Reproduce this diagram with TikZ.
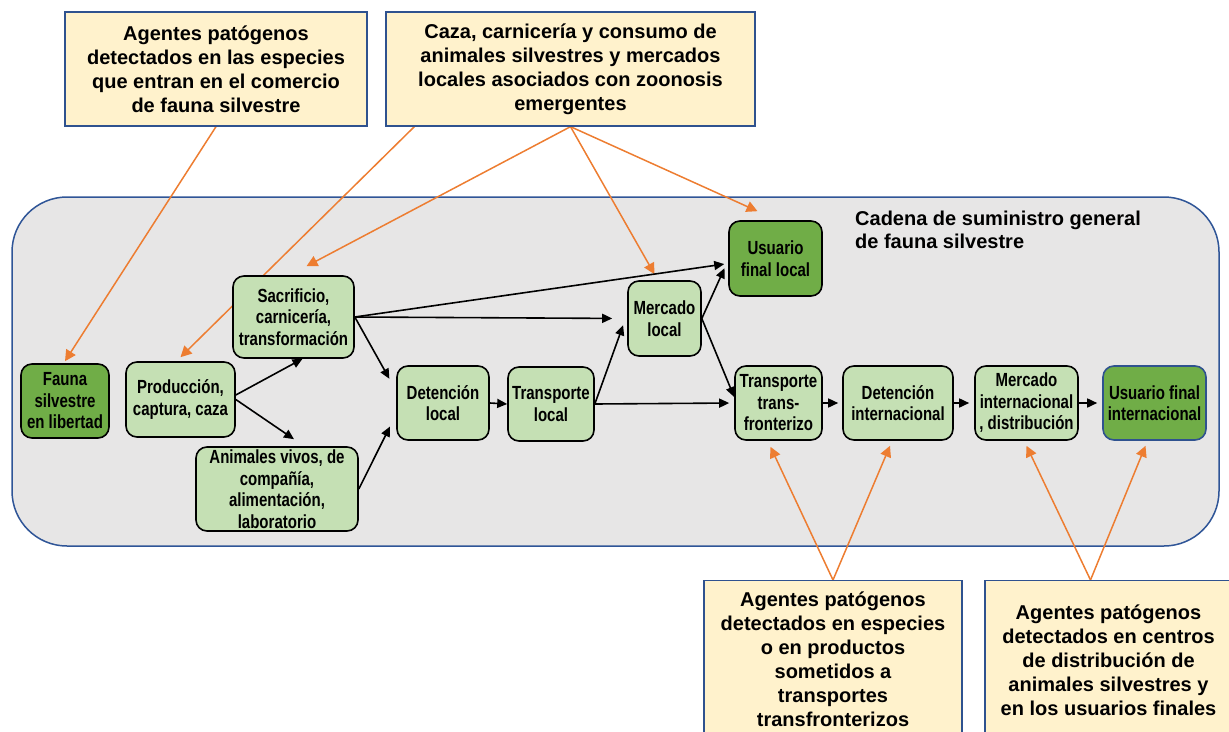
\documentclass[tikz,border=0pt]{standalone}
\usepackage{fontspec}
\setmainfont{Liberation Sans}
\newfontfamily\narrowsf{Liberation Sans}[FakeStretch=0.79]
\usetikzlibrary{arrows.meta,calc}
\definecolor{noteyellow}{HTML}{FFF2CC}
\definecolor{noteblue}{HTML}{2F528F}
\definecolor{panelgray}{HTML}{E7E6E6}
\definecolor{panelblue}{HTML}{2F5597}
\definecolor{lgreen}{HTML}{C5E0B4}
\definecolor{dgreen}{HTML}{70AD47}
\definecolor{orangeln}{HTML}{ED7D31}
\pgfdeclarelayer{bg}
\pgfdeclarelayer{mid}
\pgfsetlayers{bg,mid,main}
\begin{document}
\begin{tikzpicture}[x=1pt,y=-1pt,
  stage/.style={draw=black, line width=1.6pt, fill=lgreen, rounded corners=11pt, align=center, inner sep=0pt, font=\narrowsf\bfseries\fontsize{19}{21.5}\selectfont},
  endstage/.style={stage, fill=dgreen},
  notebox/.style={draw=noteblue, line width=1.3pt, fill=noteyellow, align=center, inner sep=0pt, font=\bfseries\fontsize{20}{24}\selectfont},
  blk/.style={-{Triangle[length=10pt,width=9pt]}, line width=1.6pt, black},
  org/.style={-{Triangle[length=11pt,width=11pt]}, line width=1.5pt, orangeln},
]
\useasboundingbox (0,0) rectangle (1229,731);

\begin{pgfonlayer}{bg}
\node[draw=panelblue, fill=panelgray, line width=1.5pt, rounded corners=55pt, minimum width=1207pt, minimum height=349pt, inner sep=0pt] (panel) at (615.5,371.5) {};
\end{pgfonlayer}

% top notes
\node[notebox, minimum width=302pt, minimum height=114pt] (top1) at (216,69)
  {Agentes patógenos\\detectados en las especies\\que entran en el comercio\\de fauna silvestre};
\node[notebox, minimum width=369pt, minimum height=114pt] (top2) at (570.5,69)
  {Caza, carnicería y consumo de\\animales silvestres y mercados\\locales asociados con zoonosis\\emergentes};

% bottom notes
\node[notebox, anchor=north, minimum width=258pt, minimum height=158pt] (bot1) at (833,580)
  {Agentes patógenos\\detectados en especies\\o en productos\\sometidos a\\transportes\\transfronterizos};
\node[notebox, anchor=north, minimum width=247pt, minimum height=160pt] (bot2) at (1108.5,580)
  {Agentes patógenos\\detectados en centros\\de distribución de\\animales silvestres y\\en los usuarios finales};

% title
\node[anchor=north west, align=left, inner sep=0pt, font=\bfseries\fontsize{20}{23}\selectfont] (title) at (855,211)
  {Cadena de suministro general\\de fauna silvestre};

% chain nodes
\node[endstage, minimum width=88pt, minimum height=74pt] (fauna) at (65,401) {Fauna\\silvestre\\en libertad};
\node[stage, minimum width=109pt, minimum height=75pt] (prod) at (180.5,399.5) {Producción,\\captura, caza};
\node[stage, minimum width=121pt, minimum height=82pt] (sac) at (293.5,317) {Sacrificio,\\carnicería,\\transformación};
\node[stage, minimum width=162pt, minimum height=84pt] (anim) at (277,489) {Animales vivos, de\\compañía,\\alimentación,\\laboratorio};
\node[stage, minimum width=92pt, minimum height=74pt] (dl) at (443,403) {Detención\\local};
\node[stage, minimum width=86pt, minimum height=74pt] (tl) at (551,404) {Transporte\\local};
\node[stage, minimum width=73pt, minimum height=75pt] (ml) at (664.5,318.5) {Mercado\\local};
\node[endstage, minimum width=93pt, minimum height=75pt] (ul) at (775.5,258.5) {Usuario\\final local};
\node[stage, minimum width=87pt, minimum height=74pt] (tt) at (778.5,403) {Transporte\\trans-\\fronterizo};
\node[stage, minimum width=110pt, minimum height=74pt] (di) at (898,403) {Detención\\internacional};
\node[stage, minimum width=103pt, minimum height=74pt] (mi) at (1026.5,403) {Mercado\\internacional\\, distribución};
\node[endstage, draw=noteblue, minimum width=103pt, minimum height=74pt] (ui) at (1154.5,403) {Usuario final\\internacional};

% orange connectors
\begin{pgfonlayer}{mid}
\draw[org] (top1.south) -- ([yshift=2pt]fauna.north);
\draw[org] ($(top2.south west)+(29,0)$) -- ([yshift=4pt]prod.north);
\draw[org] (top2.south) -- ([xshift=13pt,yshift=9pt]sac.north);
\draw[org] (top2.south) -- ([xshift=-10pt,yshift=6pt]ml.north);
\draw[org] (top2.south) -- ([xshift=-18pt,yshift=9pt]ul.north);
\draw[org] (bot1.north) -- ([xshift=-8pt,yshift=-6pt]tt.south);
\draw[org] (bot1.north) -- ([xshift=-8pt,yshift=-5pt]di.south);
\draw[org] ([xshift=-18pt]bot2.north) -- ([yshift=-5pt]mi.south);
\draw[org] ([xshift=-18pt]bot2.north) -- ([xshift=-9pt,yshift=-5pt]ui.south);
\end{pgfonlayer}

% black connectors
\draw[blk] ([yshift=4.5pt]prod.east) -- ([xshift=9pt]sac.south);
\draw[blk] (prod.east) -- ([xshift=17pt,yshift=7pt]anim.north);
\draw[blk, shorten >=14pt] (sac.east) -- ([yshift=12pt]dl.west);
\draw[blk, shorten >=14pt] (anim.east) -- ([yshift=-11pt]dl.west);
\draw[blk, shorten >=4pt] (sac.east) -- ([yshift=-5pt]ul.west);
\draw[blk, shorten >=15pt] (sac.east) -- (ml.west);
\draw[blk] (dl.east) -- (tl.west);
\draw[blk, shorten >=12pt] (tl.east) -- ([yshift=4.5pt]ml.west);
\draw[blk, shorten >=5pt] (tl.east) -- (tt.west);
\draw[blk, shorten >=9pt] (ml.east) -- ([yshift=-1.5pt]ul.west);
\draw[blk] (ml.east) -- ([yshift=6pt]tt.west);
\draw[blk, shorten >=4pt] (tt.east) -- (di.west);
\draw[blk, shorten >=5pt] (di.east) -- (mi.west);
\draw[blk, shorten >=5pt] (mi.east) -- (ui.west);
\end{tikzpicture}
\end{document}
